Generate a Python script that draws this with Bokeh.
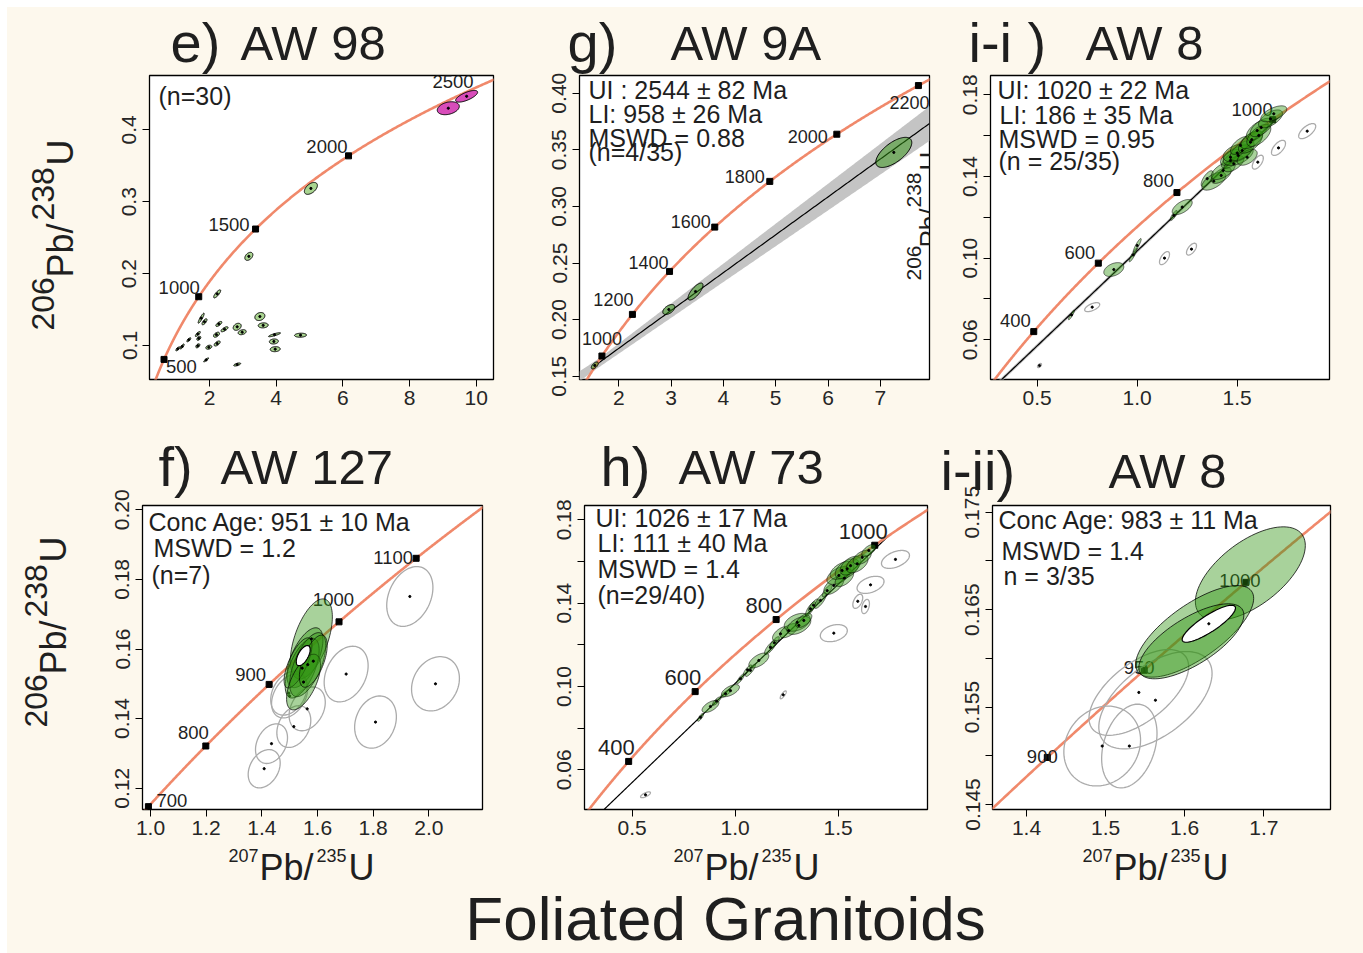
import numpy as np
from math import pi
from bokeh.plotting import figure
from bokeh.layouts import row, column
from bokeh.models import Label, FixedTicker, PrintfTickFormatter, Title
from bokeh.embed import file_html
from bokeh.resources import INLINE
from bokeh.core.properties import value

FONT = "Liberation Sans"
CREAM = "#fdf8ed"
INK = "#1f1f1f"
CONC = "#f0896b"
GREEN = "#2f9410"
GREEN_ALPHA = 0.42
E_GREEN = "#a9d490"
MAGENTA = "#d84cba"
GREY = "#ababab"
BAND = "#c4c4c4"
SHIFT = 0.3      # baseline correction (fraction of font size)
TH = 1.15        # text box height used by titles (fraction of font size)
TITLE_C = 22.5   # calibration of title placement

LAMBDA238 = 1.55125e-4   # 1/Ma
LAMBDA235 = 9.8485e-4    # 1/Ma

# ---------------- e) AW 98 ----------------
E_XTICKS = [2, 4, 6, 8, 10]; E_YTICKS = [0.1, 0.2, 0.3, 0.4]
E_AGES = [500, 1000, 1500, 2000, 2500]
E_GX = [5.04, 3.18, 2.23, 1.75, 1.85, 2.28, 2.83, 2.45, 2.98, 2.21, 1.65, 1.68, 1.38, 1.18, 1.05, 1.65, 1.98, 2.23, 3.51, 3.61, 3.95, 3.93, 3.97, 4.73, 1.90, 2.83]
E_GY = [0.3185, 0.224, 0.1718, 0.138, 0.133, 0.130, 0.126, 0.1226, 0.1185, 0.115, 0.116, 0.110, 0.108, 0.0986, 0.0954, 0.0996, 0.0976, 0.1028, 0.1403, 0.128, 0.115, 0.1056, 0.0949, 0.1143, 0.080, 0.0736]
E_GSX = [0.195, 0.12, 0.105, 0.09, 0.075, 0.09, 0.12, 0.105, 0.12, 0.09, 0.075, 0.06, 0.06, 0.06, 0.06, 0.06, 0.09, 0.09, 0.15, 0.15, 0.18, 0.135, 0.15, 0.18, 0.075, 0.105]
E_GSY = [0.0083, 0.0056, 0.0056, 0.007, 0.0042, 0.0035, 0.0049, 0.0035, 0.0035, 0.0035, 0.0035, 0.0028, 0.0028, 0.0035, 0.0028, 0.0028, 0.0028, 0.0035, 0.0056, 0.0035, 0.0028, 0.0035, 0.0035, 0.0028, 0.0028, 0.0021]
E_GRHO = [0.5, 0.4, 0.8, 0.9, 0.7, 0.7, 0.3, 0.7, 0.3, 0.5, 0.8, 0.5, 0.8, 0.8, 0.8, 0.5, 0.3, 0.6, 0.2, 0.1, 0.85, 0.1, 0.1, 0.1, 0.9, 0.6]
E_MX = [9.16, 9.71]; E_MY = [0.430, 0.4466]; E_MSX = [0.33, 0.33]; E_MSY = [0.009, 0.0081]; E_MRHO = [0.3, 0.7]

# ---------------- g) AW 9A ----------------
G_XTICKS = [2, 3, 4, 5, 6, 7]; G_YTICKS = [0.15, 0.20, 0.25, 0.30, 0.35, 0.40]
G_AGES = [1000, 1200, 1400, 1600, 1800, 2000, 2200]
G_LI = (958, 26); G_UI = (2544, 82)
G_GX = [1.541, 2.956, 3.467, 7.258]; G_GY = [0.1595, 0.2089, 0.2248, 0.3477]
G_GSX = [0.067, 0.115, 0.143, 0.344]; G_GSY = [0.0031, 0.0044, 0.0075, 0.0133]; G_GRHO = [0.6, 0.5, 0.75, 0.65]

# ---------------- i-i) AW 8 ----------------
I1_XTICKS = [0.5, 1.0, 1.5]; I1_YTICKS = [0.06, 0.10, 0.14, 0.18]; I1_YMINOR = [0.08, 0.12, 0.16]
I1_AGES = [400, 600, 800, 1000]
I1_LI = (186, 35); I1_UI = (1020, 22)
I1_RX = [0.5115, 0.775, 1.1365, 1.2715, 1.603, 1.7065, 1.85]
I1_RY = [0.0474, 0.0760, 0.1000, 0.1044, 0.147, 0.154, 0.1622]
I1_RSX = [0.01, 0.0375, 0.025, 0.025, 0.0275, 0.035, 0.0425]
I1_RSY = [0.001, 0.0022, 0.0032, 0.0029, 0.0034, 0.0037, 0.0037]
I1_RRHO = [0.6, 0.6, 0.6, 0.6, 0.6, 0.6, 0.65]
I1_GX = [0.6715, 0.883, 0.98, 1.0, 1.183, 1.225, 1.35, 1.383, 1.42, 1.43, 1.4665, 1.4665, 1.483, 1.505, 1.50, 1.525, 1.5165, 1.55, 1.5665, 1.573, 1.6, 1.608, 1.62, 1.6665, 1.683]
I1_GY = [0.0722, 0.0944, 0.1016, 0.1062, 0.1209, 0.125, 0.1389, 0.1377, 0.1405, 0.1429, 0.1478, 0.1494, 0.1462, 0.1503, 0.1515, 0.1527, 0.1552, 0.1494, 0.1568, 0.158, 0.1625, 0.1601, 0.164, 0.1682, 0.1707]
I1_GSX = [0.015, 0.05, 0.02, 0.02, 0.0175, 0.05, 0.03, 0.06, 0.05, 0.06, 0.045, 0.05, 0.05, 0.075, 0.07, 0.06, 0.05, 0.05, 0.06, 0.055, 0.055, 0.06, 0.055, 0.06, 0.065]
I1_GSY = [0.0024, 0.0034, 0.0034, 0.0034, 0.0024, 0.0037, 0.0039, 0.0044, 0.0039, 0.0044, 0.0039, 0.0039, 0.0039, 0.0049, 0.0044, 0.0049, 0.0044, 0.0039, 0.0054, 0.0044, 0.0049, 0.0054, 0.0045, 0.0044, 0.0039]
I1_GRHO = [0.9, 0.4, 0.9, 0.9, 0.8, 0.6, 0.7, 0.6, 0.6, 0.6, 0.6, 0.6, 0.6, 0.5, 0.4, 0.6, 0.6, 0.5, 0.6, 0.6, 0.6, 0.6, 0.6, 0.6, 0.6]

# ---------------- f) AW 127 ----------------
F_XTICKS = [1.0, 1.2, 1.4, 1.6, 1.8, 2.0]; F_YTICKS = [0.12, 0.14, 0.16, 0.18, 0.20]
F_AGES = [700, 800, 900, 1000, 1100]
F_RX = [1.9318, 2.024, 1.8085, 1.703, 1.4085, 1.4348, 1.515, 1.563, 1.497, 1.50]
F_RY = [0.17509, 0.150, 0.139, 0.1528, 0.1256, 0.1328, 0.1377, 0.1428, 0.1473, 0.1465]
F_RSX = [0.083, 0.086, 0.075, 0.079, 0.0575, 0.0575, 0.061, 0.065, 0.065, 0.065]
F_RSY = [0.0086, 0.0078, 0.0075, 0.008, 0.0055, 0.0057, 0.006, 0.0063, 0.0063, 0.0063]
F_RRHO = [0.3, 0.2, 0.2, 0.3, 0.3, 0.3, 0.3, 0.3, 0.3, 0.35]
F_GX = [1.578, 1.555, 1.545, 1.565, 1.53, 1.55, 1.585]
F_GY = [0.1629, 0.1575, 0.1545, 0.1555, 0.156, 0.1505, 0.1565]
F_GSX = [0.0755, 0.0647, 0.061, 0.0647, 0.05, 0.061, 0.05]
F_GSY = [0.0115, 0.0086, 0.0086, 0.0092, 0.0072, 0.008, 0.0075]
F_GRHO = [0.55, 0.6, 0.6, 0.6, 0.7, 0.6, 0.6]
F_CX = [1.5487]; F_CY = [0.1581]; F_CSX = [0.025]; F_CSY = [0.0029]; F_CRHO = [0.6]

# ---------------- h) AW 73 ----------------
H_XTICKS = [0.5, 1.0, 1.5]; H_YTICKS = [0.06, 0.10, 0.14, 0.18]; H_YMINOR = [0.08, 0.12, 0.16]
H_AGES = [400, 600, 800, 1000]
H_LI = (111, 40); H_UI = (1026, 17)
H_RX = [0.5646, 1.233, 1.4787, 1.595, 1.6326, 1.657, 1.778]
H_RY = [0.048, 0.096, 0.1256, 0.1409, 0.1384, 0.1488, 0.161]
H_RSX = [0.024, 0.0146, 0.0655, 0.024, 0.019, 0.0655, 0.068]
H_RSY = [0.0014, 0.0019, 0.0041, 0.0034, 0.0034, 0.0041, 0.0043]
H_RRHO = [0.7, 0.8, 0.3, 0.5, 0.4, 0.4, 0.45]
H_GX = [0.8316, 0.88, 0.91, 0.953, 0.977, 1.0257, 1.06, 1.074, 1.1146, 1.1714, 1.19, 1.22, 1.26, 1.301, 1.309, 1.333, 1.3655, 1.38, 1.414, 1.4466, 1.4786, 1.503, 1.519, 1.53, 1.5437, 1.56, 1.592, 1.6165, 1.6485]
H_GY = [0.0852, 0.0904, 0.093, 0.0965, 0.098, 0.1037, 0.108, 0.1077, 0.1125, 0.1188, 0.121, 0.1253, 0.1268, 0.1308, 0.1293, 0.1317, 0.1373, 0.139, 0.1413, 0.146, 0.1485, 0.1533, 0.1557, 0.152, 0.1565, 0.158, 0.1589, 0.1620, 0.1653]
H_GSX = [0.0146, 0.041, 0.02, 0.024, 0.0437, 0.019, 0.02, 0.024, 0.0485, 0.029, 0.024, 0.039, 0.0437, 0.063, 0.058, 0.039, 0.024, 0.024, 0.029, 0.024, 0.0485, 0.058, 0.058, 0.045, 0.058, 0.05, 0.053, 0.0437, 0.034]
H_GSY = [0.0019, 0.0029, 0.002, 0.0019, 0.0029, 0.0024, 0.0024, 0.0029, 0.0036, 0.0034, 0.0029, 0.0034, 0.0034, 0.0043, 0.0043, 0.0034, 0.0034, 0.003, 0.0038, 0.0029, 0.0043, 0.0043, 0.0043, 0.004, 0.0048, 0.0045, 0.0043, 0.0034, 0.0029]
H_GRHO = [0.8, 0.6, 0.8, 0.8, 0.6, 0.85, 0.85, 0.85, 0.6, 0.8, 0.8, 0.6, 0.6, 0.4, 0.5, 0.6, 0.8, 0.8, 0.8, 0.8, 0.6, 0.5, 0.5, 0.55, 0.5, 0.5, 0.5, 0.5, 0.6]

# ---------------- i-ii) AW 8 ----------------
I2_XTICKS = [1.4, 1.5, 1.6, 1.7]; I2_YTICKS = [0.145, 0.155, 0.165, 0.175]; I2_YMINOR = [0.150, 0.160, 0.170]
I2_AGES = [900, 950, 1000]
I2_RX = [1.4957, 1.530, 1.542, 1.563]; I2_RY = [0.151, 0.151, 0.1565, 0.1557]
I2_RSX = [0.0485, 0.035, 0.063, 0.0716]; I2_RSY = [0.0041, 0.0043, 0.0044, 0.005]; I2_RRHO = [0.15, 0.3, 0.6, 0.55]
I2_GX = [1.683, 1.6126, 1.6084]; I2_GY = [0.1687, 0.16277, 0.16175]
I2_GSX = [0.0695, 0.0746, 0.0664]; I2_GSY = [0.0048, 0.0047, 0.00385]; I2_GRHO = [0.6, 0.72, 0.7]
I2_CX = [1.6305]; I2_CY = [0.16355]; I2_CSX = [0.0337]; I2_CSY = [0.0019]; I2_CRHO = [0.85]

# ---------------- layout (page pixels) ----------------
ROW1 = (7, 430, 75, 379)     # figure top, bottom, common frame top, bottom
ROW2 = (430, 845, 505, 809)
GEOM = {
    "e":  dict(x=(100, 536, 149, 493),  r=ROW1, xcal=(2, 209, 33.35),     ycal=(0.1, 345, 719)),
    "g":  dict(x=(536, 950, 579, 929),  r=ROW1, xcal=(2, 618.3, 52.3),    ycal=(0.15, 375.7, 1132)),
    "i1": dict(x=(950, 1363, 990, 1329), r=ROW1, xcal=(0.5, 1036.7, 200),  ycal=(0.06, 339.3, 2041.7)),
    "f":  dict(x=(95, 520, 142, 482),   r=ROW2, xcal=(1.0, 150, 278.3),   ycal=(0.12, 787.7, 3480)),
    "h":  dict(x=(520, 935, 584, 927),  r=ROW2, xcal=(0.5, 631.7, 206),   ycal=(0.06, 769.3, 2083)),
    "i2": dict(x=(935, 1363, 992, 1330), r=ROW2, xcal=(1.4, 1026, 791),    ycal=(0.145, 804, 9743)),
}


def frame(key):
    gl, gr, fl, fr = GEOM[key]["x"]
    gt, gb, ft, fb = GEOM[key]["r"]
    return fl, fr, ft, fb


def limits(key):
    fl, fr, ft, fb = frame(key)
    xv, xp, xu = GEOM[key]["xcal"]
    yv, yp, yu = GEOM[key]["ycal"]
    return ((xv - (xp - fl) / xu, xv + (fr - xp) / xu),
            (yv - (fb - yp) / yu, yv + (yp - ft) / yu))


def concordia(t):
    t = np.asarray(t, dtype=float)
    return np.exp(LAMBDA235 * t) - 1.0, np.exp(LAMBDA238 * t) - 1.0


def make_fig(key, xticks, xfmt, yticks, yfmt, yminor=()):
    gl, gr, fl, fr = GEOM[key]["x"]
    gt, gb, ft, fb = GEOM[key]["r"]
    xlim, ylim = limits(key)
    p = figure(width=gr - gl, height=gb - gt, x_range=xlim, y_range=ylim,
               min_border_left=fl - gl, min_border_right=gr - fr,
               min_border_top=ft - gt, min_border_bottom=gb - fb,
               output_backend="svg", toolbar_location=None,
               background_fill_color="white", border_fill_color=CREAM)
    p.xgrid.visible = False
    p.ygrid.visible = False
    p.outline_line_color = "black"
    p.outline_line_width = 1.3
    for ax in (p.xaxis[0], p.yaxis[0]):
        ax.axis_line_color = None
        ax.major_tick_in = 0
        ax.major_tick_out = 7
        ax.minor_tick_in = 0
        ax.minor_tick_out = 7
        ax.major_tick_line_color = "black"
        ax.minor_tick_line_color = "black"
        ax.major_label_text_font = FONT
        ax.major_label_text_font_size = "21px"
        ax.major_label_text_color = "#262626"
    p.xaxis[0].ticker = FixedTicker(ticks=list(xticks))
    p.xaxis[0].formatter = PrintfTickFormatter(format=xfmt)
    p.xaxis[0].major_label_standoff = 4
    p.yaxis[0].ticker = FixedTicker(ticks=list(yticks), minor_ticks=list(yminor))
    p.yaxis[0].formatter = PrintfTickFormatter(format=yfmt)
    p.yaxis[0].major_label_orientation = "vertical"
    p.yaxis[0].major_label_standoff = 6
    return p


def make_strip(x0, x1, rowgeom):
    gt, gb, ft, fb = rowgeom
    s = figure(width=x1 - x0, height=gb - gt, output_backend="svg", toolbar_location=None,
               min_border_left=0, min_border_right=0,
               min_border_top=ft - gt, min_border_bottom=gb - fb,
               x_axis_location=None, y_axis_location=None,
               background_fill_color=CREAM, border_fill_color=CREAM)
    s.outline_line_color = None
    s.xgrid.visible = False
    s.ygrid.visible = False
    return s, (x0, fb)


def slabel(s, box, px, py, text, size, vertical=False, align="left"):
    """(px, py) = baseline anchor in page pixels"""
    x0, fb = box
    if vertical:
        x, y, ang = (px - SHIFT * size) - x0, fb - py, pi / 2
    else:
        x, y, ang = px - x0, fb - (py - SHIFT * size), 0.0
    s.add_layout(Label(x=x, y=y, x_units="screen", y_units="screen", text=text, angle=ang,
                       text_align=align, text_baseline="alphabetic", text_font=FONT,
                       text_font_size=f"{size}px", text_color=INK))


def plabel(p, key, px, py, text, size):
    fl, fr, ft, fb = frame(key)
    p.add_layout(Label(x=px - fl, y=fb - (py - SHIFT * size), x_units="screen", y_units="screen",
                       text=text, text_align="left", text_baseline="alphabetic",
                       text_font=FONT, text_font_size=f"{size}px", text_color=INK))


def ptext_v(p, key, px, py, text, size):
    """vertical (reading upward) clipped text; px = baseline x, py = start y (page px)"""
    fl, fr, ft, fb = frame(key)
    xlim, ylim = limits(key)
    bx = min(px - SHIFT * size, fr - 0.6)
    xd = xlim[0] + (bx - fl) / (fr - fl) * (xlim[1] - xlim[0])
    yd = ylim[0] + (fb - py) / (fb - ft) * (ylim[1] - ylim[0])
    p.text(x=[xd], y=[yd], text=[text], angle=pi / 2, text_align="left",
           text_baseline="alphabetic", text_font=value(FONT),
           text_font_size=value(f"{size}px"), text_color=INK)


def add_title(p, side, text, size, offset, valign, box):
    h = TH * size
    p.add_layout(Title(text=text, text_font=FONT, text_font_size=f"{size}px",
                       text_font_style="normal", text_color=INK, align="left",
                       offset=offset, vertical_align=valign, standoff=box - 2 - h), side)


def panel_title(p, key, prefix, px_prefix, name, px_name, baseline):
    fl, fr, ft, fb = frame(key)
    add_title(p, "above", "\u00a0", 20, 0, "bottom", ft - baseline + TITLE_C)
    add_title(p, "above", name, 49, px_name - fl, "bottom", 0)
    add_title(p, "above", prefix, 56, px_prefix - fl, "bottom", 0)


def draw_concordia(p, key, ages, aligns, dxs, dys, size):
    xlim, ylim = limits(key)
    tx = np.log1p(np.array(xlim)) / LAMBDA235
    ty = np.log1p(np.array(ylim)) / LAMBDA238
    t = np.linspace(max(1.0, min(tx[0], ty[0]) * 0.9), max(tx[1], ty[1]) * 1.05, 700)
    cx, cy = concordia(t)
    p.line(cx, cy, line_color=CONC, line_width=2.6)
    mx, my = concordia(ages)
    p.scatter(mx, my, marker="square", size=6, color="black")
    for i, a in enumerate(ages):
        p.text(x=[mx[i]], y=[my[i]], text=[str(a)], x_offset=dxs[i], y_offset=dys[i] - SHIFT * size,
               text_align=aligns[i], text_baseline="alphabetic",
               text_font=value(FONT), text_font_size=value(f"{size}px"), text_color=INK)


def discordia_y(li, ui, xs):
    x1, y1 = concordia(li)
    x2, y2 = concordia(ui)
    return y1 + (xs - x1) * (y2 - y1) / (x2 - x1)


def draw_discordia(p, key, li, ui, k):
    xlim, ylim = limits(key)
    x_ui = float(concordia(ui[0])[0])
    x_end = min(x_ui, xlim[1])
    if k > 0:
        xs = np.linspace(xlim[0], x_end, 300)
        combos = [discordia_y(li[0] + s1 * k * li[1], ui[0] + s2 * k * ui[1], xs)
                  for s1 in (-1, 1) for s2 in (-1, 1)]
        p.varea(x=xs, y1=np.min(combos, axis=0), y2=np.max(combos, axis=0),
                fill_color=BAND, fill_alpha=1.0)
    x0 = float(concordia(li[0])[0])
    xl = np.linspace(x0, x_end, 200)
    p.line(xl, discordia_y(li[0], ui[0], xl), line_color="black", line_width=1.2)


def ellipse_paths(cx, cy, sx, sy, rho, n=90):
    th = np.linspace(0, 2 * np.pi, n)
    xs, ys = [], []
    for a, b, c, d, r in zip(cx, cy, sx, sy, rho):
        xs.append((a + c * np.cos(th)).tolist())
        ys.append((b + d * (r * np.cos(th) + np.sqrt(1 - r * r) * np.sin(th))).tolist())
    return xs, ys


def draw_ellipses(p, cx, cy, sx, sy, rho, fill, alpha, line, lw, line_alpha=1.0, dots=True):
    xs, ys = ellipse_paths(cx, cy, sx, sy, rho)
    p.patches(xs, ys, fill_color=fill, fill_alpha=alpha, line_color=line,
              line_width=lw, line_alpha=line_alpha)
    if dots:
        p.scatter(cx, cy, marker="circle", size=2.2, color="black")


# ---------------- e ----------------
pe = make_fig("e", E_XTICKS, "%d", E_YTICKS, "%.1f")
draw_concordia(pe, "e", E_AGES, ["left", "right", "right", "right", "right"],
               [2, 1, -6, -1, -27], [13, -4, 1, -4, 10], 18.5)
draw_ellipses(pe, E_GX, E_GY, E_GSX, E_GSY, E_GRHO, E_GREEN, 1.0, "black", 1.0)
draw_ellipses(pe, E_MX, E_MY, E_MSX, E_MSY, E_MRHO, MAGENTA, 1.0, "black", 1.0)
plabel(pe, "e", 158, 103, "(n=30)", 25)
panel_title(pe, "e", "e)", 170, "AW 98", 240, 62)

# ---------------- g ----------------
pg = make_fig("g", G_XTICKS, "%d", G_YTICKS, "%.2f")
draw_discordia(pg, "g", G_LI, G_UI, 1.5)
draw_concordia(pg, "g", G_AGES, ["right"] * 7,
               [20, 1, -1, -4, -5, -9, 11], [-12, -9, -4, 0, 1, 8, 22], 18)
draw_ellipses(pg, G_GX, G_GY, G_GSX, G_GSY, G_GRHO, GREEN, 0.5, "black", 1.0)
for txt, bx, by in [("UI : 2544 \u00b1 82 Ma", 588, 97), ("LI: 958 \u00b1 26 Ma", 588, 121),
                    ("MSWD = 0.88", 588, 145), ("(n=4/35)", 588, 159)]:
    plabel(pg, "g", bx, by, txt, 25)
ptext_v(pg, "g", 920, 280, "206", 21)
ptext_v(pg, "g", 937, 247, "Pb/", 26)
ptext_v(pg, "g", 920, 207, "238", 21)
ptext_v(pg, "g", 937, 170, "U", 26)
panel_title(pg, "g", "g)", 567, "AW 9A", 670, 62)

# ---------------- i-i ----------------
pi1 = make_fig("i1", I1_XTICKS, "%.1f", I1_YTICKS, "%.2f", I1_YMINOR)
draw_discordia(pi1, "i1", I1_LI, I1_UI, 0.6)
draw_concordia(pi1, "i1", I1_AGES, ["right"] * 4, [-3, -3, -3, 0], [-6, -5, -6, -5], 18.5)
draw_ellipses(pi1, I1_RX, I1_RY, I1_RSX, I1_RSY, I1_RRHO, None, 0.0, GREY, 1.3)
draw_ellipses(pi1, I1_GX, I1_GY, I1_GSX, I1_GSY, I1_GRHO, GREEN, GREEN_ALPHA, "black", 0.8, 0.7)
for txt, bx, by in [("UI: 1020 \u00b1 22 Ma", 997, 97), ("LI: 186 \u00b1 35 Ma", 999, 122),
                    ("MSWD = 0.95", 998, 146), ("(n = 25/35)", 998, 168)]:
    plabel(pi1, "i1", bx, by, txt, 25)
panel_title(pi1, "i1", "i-i )", 968, "AW 8", 1085, 62)

# ---------------- f ----------------
pf = make_fig("f", F_XTICKS, "%.1f", F_YTICKS, "%.2f")
draw_concordia(pf, "f", F_AGES, ["left", "right", "right", "right", "right"],
               [8, 3, -3, 15, -3], [-1, -8, -4, -17, 5], 18.5)
draw_ellipses(pf, F_RX, F_RY, F_RSX, F_RSY, F_RRHO, None, 0.0, GREY, 1.3)
draw_ellipses(pf, F_GX, F_GY, F_GSX, F_GSY, F_GRHO, GREEN, GREEN_ALPHA, "black", 0.9, 0.8)
draw_ellipses(pf, F_CX, F_CY, F_CSX, F_CSY, F_CRHO, "white", 1.0, "black", 1.2, dots=False)
for txt, bx, by in [("Conc Age: 951 \u00b1 10 Ma", 148, 529), ("MSWD = 1.2", 153, 555), ("(n=7)", 151, 582)]:
    plabel(pf, "f", bx, by, txt, 25)
panel_title(pf, "f", "f)", 158, "AW 127", 220, 486)

# ---------------- h ----------------
ph = make_fig("h", H_XTICKS, "%.1f", H_YTICKS, "%.2f", H_YMINOR)
draw_discordia(ph, "h", H_LI, H_UI, 0.0)
draw_concordia(ph, "h", H_AGES, ["right"] * 4, [6, 6, 6, 13], [-7, -7, -7, -7], 22)
draw_ellipses(ph, H_RX, H_RY, H_RSX, H_RSY, H_RRHO, None, 0.0, GREY, 1.3)
draw_ellipses(ph, H_GX, H_GY, H_GSX, H_GSY, H_GRHO, GREEN, GREEN_ALPHA, "black", 0.8, 0.7)
for txt, bx, by in [("UI: 1026 \u00b1 17 Ma", 595, 525), ("LI: 111 \u00b1 40 Ma", 597, 550),
                    ("MSWD = 1.4", 597, 576), ("(n=29/40)", 597, 602)]:
    plabel(ph, "h", bx, by, txt, 25)
panel_title(ph, "h", "h)", 600, "AW 73", 678, 486)

# ---------------- i-ii ----------------
pi2 = make_fig("i2", I2_XTICKS, "%.1f", I2_YTICKS, "%.3f", I2_YMINOR)
draw_concordia(pi2, "i2", I2_AGES, ["center"] * 3, [-5, -5, -6], [5, 3, 4], 18.5)
draw_ellipses(pi2, I2_RX, I2_RY, I2_RSX, I2_RSY, I2_RRHO, None, 0.0, GREY, 1.3)
draw_ellipses(pi2, I2_GX, I2_GY, I2_GSX, I2_GSY, I2_GRHO, GREEN, GREEN_ALPHA, "black", 0.9, 0.85, dots=False)
draw_ellipses(pi2, I2_CX, I2_CY, I2_CSX, I2_CSY, I2_CRHO, "white", 1.0, "black", 1.2)
for txt, bx, by in [("Conc Age: 983 \u00b1 11 Ma", 998, 527), ("MSWD = 1.4", 1001, 558), ("n = 3/35", 1003, 583)]:
    plabel(pi2, "i2", bx, by, txt, 25)
panel_title(pi2, "i2", "i-ii)", 940, "AW 8", 1108, 490)

# ---------------- y-axis label strips ----------------
ys1, b1 = make_strip(7, 100, ROW1)
slabel(ys1, b1, 52, 330, "206", 32, vertical=True)
slabel(ys1, b1, 71, 277, "Pb/", 36, vertical=True)
slabel(ys1, b1, 52, 220, "238", 32, vertical=True)
slabel(ys1, b1, 71, 165, "U", 36, vertical=True)

ys2, b2 = make_strip(7, 95, ROW2)
slabel(ys2, b2, 45, 727, "206", 32, vertical=True)
slabel(ys2, b2, 64, 674, "Pb/", 36, vertical=True)
slabel(ys2, b2, 45, 617, "238", 32, vertical=True)
slabel(ys2, b2, 64, 562, "U", 36, vertical=True)

# ---------------- bottom strip: x-axis labels and title ----------------
bs, bb = make_strip(7, 1363, (845, 953, 845, 953))
for x0 in (228, 673, 1082):
    slabel(bs, bb, x0, 860, "207", 18)
    slabel(bs, bb, x0 + 31, 878, "Pb/", 36)
    slabel(bs, bb, x0 + 88, 860, "235", 18)
    slabel(bs, bb, x0 + 120, 878, "U", 36)
slabel(bs, bb, 725, 937, "Foliated Granitoids", 62, align="center")

r1 = row(ys1, pe, pg, pi1, styles={"background-color": CREAM})
r2 = row(ys2, pf, ph, pi2, styles={"background-color": CREAM})
layout = column(r1, r2, bs, margin=(7, 0, 0, 7), styles={"background-color": CREAM})
open("out.html", "w").write(file_html(layout, INLINE))
